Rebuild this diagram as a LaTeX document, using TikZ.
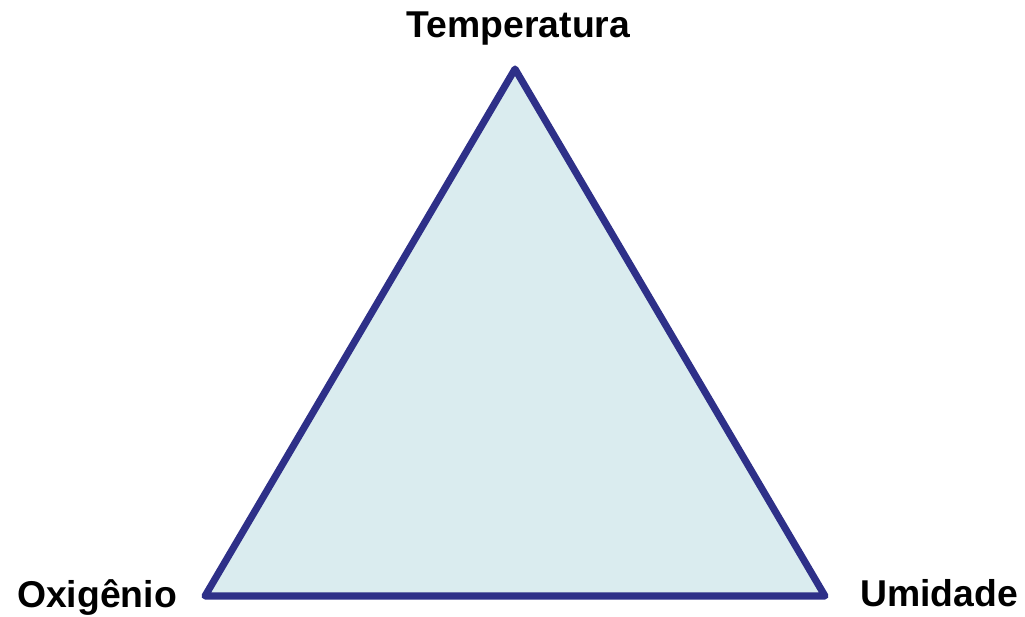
\documentclass[tikz,border=0pt]{standalone}
\usepackage{fontspec}
\setmainfont{Liberation Sans}
\definecolor{edgeblue}{HTML}{2E3088}
\definecolor{fillblue}{HTML}{DAECEF}
\begin{document}
\begin{tikzpicture}[x=0.75pt,y=-0.75pt,
  lbl/.style={font=\fontsize{28}{30}\selectfont\bfseries, inner sep=0pt, anchor=base},
  tri/.style={draw=edgeblue, fill=fillblue, line width=5.3pt, line join=round}]
\useasboundingbox (0,0) rectangle (1025,617);
\coordinate (T) at (515,69);
\coordinate (L) at (205,596);
\coordinate (R) at (825,596);
\draw[tri] (T) -- (R) -- (L) -- cycle;
\node[lbl] (temp) at (518.5,38) {Temperatura};
\node[lbl] (oxi) at (97,607) {Oxigênio};
\node[lbl] (umi) at (939,606) {Umidade};
\end{tikzpicture}
\end{document}
